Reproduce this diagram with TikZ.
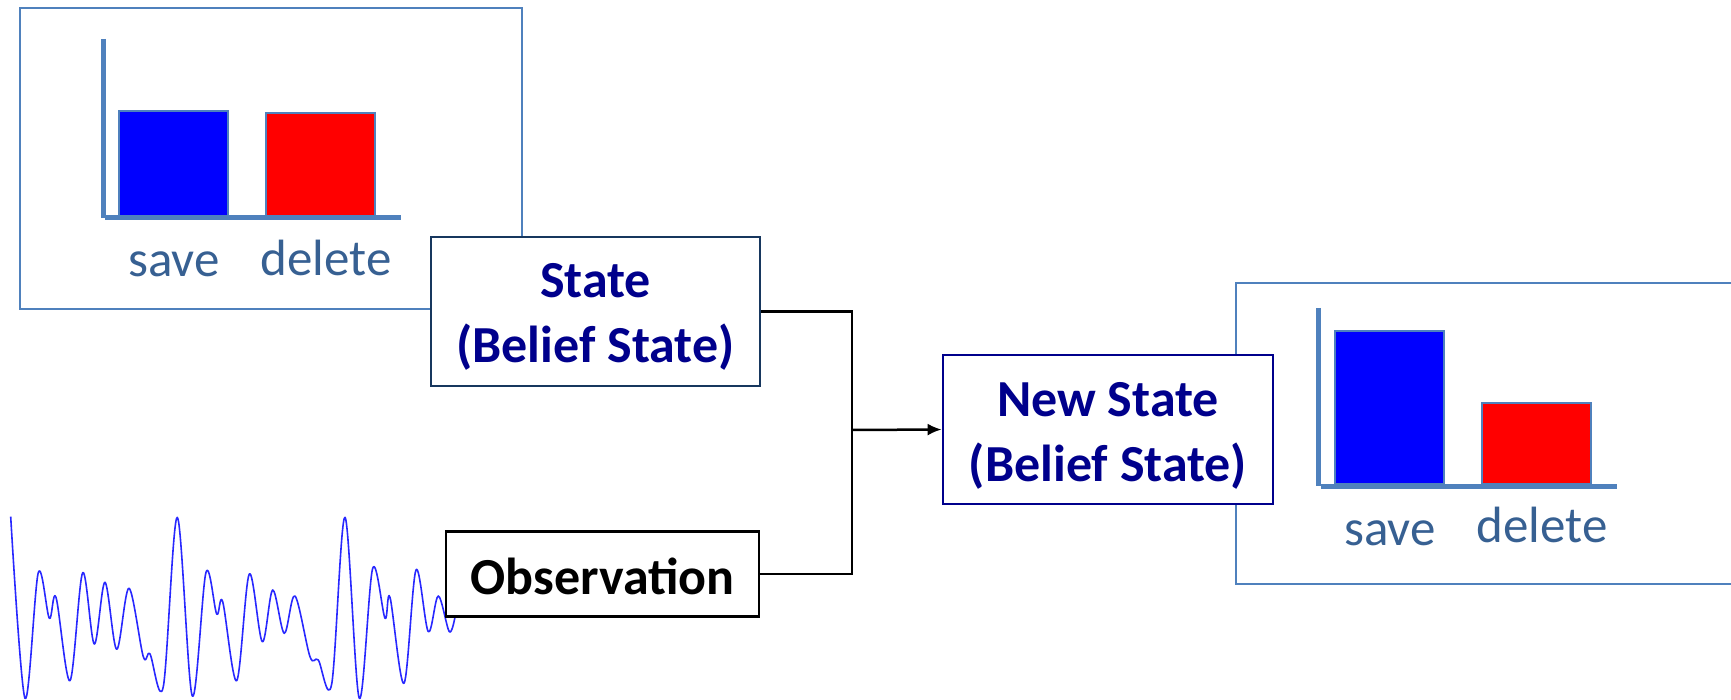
\documentclass[tikz,border=0pt]{standalone}
\usepackage{fontspec}
\setmainfont{Carlito}
\usetikzlibrary{arrows.meta}
\definecolor{axisblue}{RGB}{79,129,189}
\definecolor{labelblue}{RGB}{55,96,146}
\definecolor{navytext}{RGB}{0,0,140}
\definecolor{stateedge}{RGB}{23,55,94}
\definecolor{wave}{RGB}{40,40,255}
\begin{document}
\begin{tikzpicture}[x=1pt,y=-1pt,
  panel/.style={draw=axisblue,line width=2.5pt},
  axisline/.style={draw=axisblue,line width=5pt},
  barbox/.style={draw=axisblue,line width=2.5pt},
  barlabel/.style={text=labelblue,font=\fontsize{51}{60}\selectfont,anchor=base,inner sep=0pt},
  statebox/.style={draw=#1,fill=white,line width=2.7pt,inner sep=0pt},
  statetext/.style={inner sep=0pt,align=center,yshift=-5pt,
    font=\fontsize{52}{65}\selectfont\bfseries},
  link/.style={draw=black,line width=2.5pt}
]
\useasboundingbox (0,0) rectangle (1731,700);

% left belief panel
\draw[panel] (20,8) rectangle (522,309);
\draw[axisline] (103,39) -- (103,218);
\draw[axisline] (105,218) -- (401,218);
\draw[barbox,fill=blue] (119,111) rectangle (228,216);
\draw[barbox,fill=red] (266,113) rectangle (375,216);
\node[barlabel] (lsave) at (174,277) {save};
\node[barlabel] (ldel) at (326,276) {delete};

% right belief panel
\draw[panel] (1236,283) rectangle (1740,584);
\draw[axisline] (1318,308) -- (1318,486);
\draw[axisline] (1321,486) -- (1617,486);
\draw[barbox,fill=blue] (1335,331) rectangle (1444,484);
\draw[barbox,fill=red] (1482,403) rectangle (1591,484);
\node[barlabel] (rsave) at (1390,545) {save};
\node[barlabel] (rdel) at (1542,542) {delete};

% observed signal
\draw[wave,line width=1.6pt,line join=round] plot[smooth,tension=0.55] coordinates {
  (10.7,516.7) (25,698.3) (38.3,572.7) (49.3,618.3) (56,597.3) (70,680.7)
  (82.7,572.7) (94.3,644) (105,582.3) (116.7,649.3) (129,588.3) (143.3,656.7)
  (150,654) (163.3,686.7) (177.3,517.3) (192.3,696) (206,572.3) (216.7,614)
  (222.7,601.7) (236.7,680.7) (249.3,574) (262.3,641.7) (272.7,590) (284.3,633.3)
  (295,596) (310,656.7) (318.3,660) (331.7,684) (345,517.3) (359.3,698.3)
  (372.7,568.3) (385,618.3) (390,597.3) (404,683.3) (416,570) (428.3,631.7)
  (438.3,596) (449.3,631.7) (455,617)};

% state boxes
\node[statebox=stateedge,minimum width=329pt,minimum height=149pt]
  (state) at (595.5,311.5) {};
\node[statetext,text=navytext] (statelbl) at (state.center) {State\\(Belief State)};
\node[statebox=black,minimum width=313pt,minimum height=85pt]
  (obs) at (602.5,574) {};
\node[statetext,text=black,yshift=3pt] (obslbl) at (obs.center) {Observation};
\node[statebox=navytext,minimum width=330pt,minimum height=149pt]
  (newstate) at (1108,429.5) {};
\node[statetext,text=navytext,yshift=-1pt] (newlbl) at (newstate.center) {New State\\(Belief State)};

% update connectors
\coordinate (join) at (852,430);
\draw[link] (state.east) -| (join);
\draw[link] (obs.east) -| (join);
\draw[link,-{Latex[length=14pt,width=12pt]}] (join) -- (newstate.west);
\end{tikzpicture}
\end{document}
